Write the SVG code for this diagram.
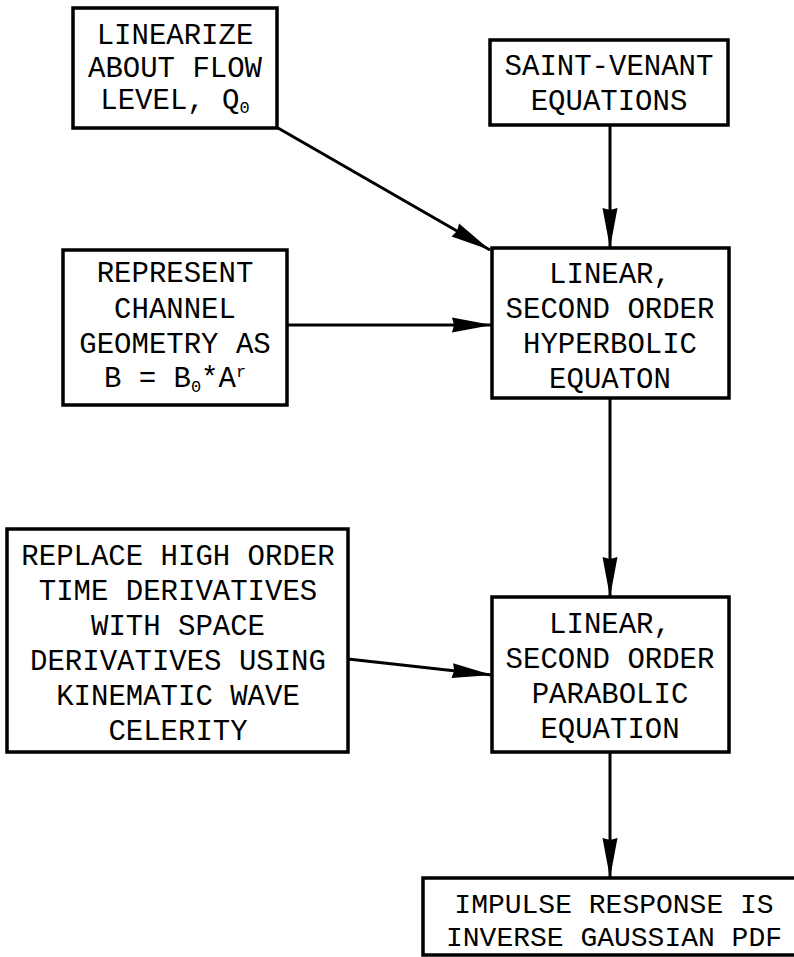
<svg xmlns="http://www.w3.org/2000/svg" width="794" height="957" viewBox="0 0 794 957">
<style>
.box{fill:#fff;stroke:#000;stroke-width:3.5}
.t{font-family:"Liberation Mono","DejaVu Sans Mono",monospace;font-size:29px;fill:#000;text-anchor:middle}
.t2{font-family:"Liberation Mono","DejaVu Sans Mono",monospace;font-size:28px;fill:#000;text-anchor:middle}
.sub{font-size:17px}
.edge{fill:none;stroke:#000;stroke-width:3;marker-end:url(#ah)}
</style>
<defs>
<marker id="ah" markerUnits="userSpaceOnUse" viewBox="-42 -10 44 20" refX="0" refY="0" markerWidth="44" markerHeight="20" orient="auto">
<path d="M0,0 L-40,-7.5 L-38,0 L-40,7.5 Z" fill="#000"/>
</marker>
</defs>
<rect width="794" height="957" fill="#fff"/>
<g id="connectors">
<line class="edge" x1="278" y1="128" x2="490" y2="250"/>
<line class="edge" x1="610" y1="125" x2="610" y2="248"/>
<line class="edge" x1="287" y1="325" x2="492" y2="325"/>
<line class="edge" x1="610" y1="398" x2="610" y2="597"/>
<line class="edge" x1="348" y1="659" x2="492" y2="675"/>
<line class="edge" x1="610" y1="752" x2="610" y2="878"/>
</g>
<g id="linearize">
<rect class="box" x="73" y="8" width="204" height="120"/>
<text class="t" x="175" y="44">LINEARIZE</text>
<text class="t" x="175" y="77">ABOUT FLOW</text>
<text class="t" x="175" y="109">LEVEL, Q<tspan class="sub" dy="4">0</tspan></text>
</g>
<g id="saint-venant">
<rect class="box" x="490" y="40" width="238" height="85"/>
<text class="t" x="609" y="75">SAINT-VENANT</text>
<text class="t" x="609" y="110">EQUATIONS</text>
</g>
<g id="represent">
<rect class="box" x="63" y="250" width="224" height="155"/>
<text class="t" x="175" y="282">REPRESENT</text>
<text class="t" x="175" y="318">CHANNEL</text>
<text class="t" x="175" y="353">GEOMETRY AS</text>
<text class="t" x="175" y="387">B = B<tspan class="sub" dy="5">0</tspan><tspan dy="-5">*A</tspan><tspan class="sub" dy="-10">r</tspan></text>
</g>
<g id="hyperbolic">
<rect class="box" x="492" y="248" width="237" height="150"/>
<text class="t" x="610" y="283">LINEAR,</text>
<text class="t" x="610" y="318">SECOND ORDER</text>
<text class="t" x="610" y="353">HYPERBOLIC</text>
<text class="t" x="610" y="388">EQUATON</text>
</g>
<g id="replace">
<rect class="box" x="7" y="529" width="341" height="223"/>
<text class="t" x="178" y="565">REPLACE HIGH ORDER</text>
<text class="t" x="178" y="600">TIME DERIVATIVES</text>
<text class="t" x="178" y="635">WITH SPACE</text>
<text class="t" x="178" y="670">DERIVATIVES USING</text>
<text class="t" x="178" y="705">KINEMATIC WAVE</text>
<text class="t" x="178" y="740">CELERITY</text>
</g>
<g id="parabolic">
<rect class="box" x="492" y="597" width="237" height="155"/>
<text class="t" x="610" y="633">LINEAR,</text>
<text class="t" x="610" y="668">SECOND ORDER</text>
<text class="t" x="610" y="703">PARABOLIC</text>
<text class="t" x="610" y="738">EQUATION</text>
</g>
<g id="impulse">
<rect class="box" x="423" y="878" width="392" height="77"/>
<text class="t2" x="614" y="913">IMPULSE RESPONSE IS</text>
<text class="t2" x="614" y="946">INVERSE GAUSSIAN PDF</text>
</g>
</svg>
